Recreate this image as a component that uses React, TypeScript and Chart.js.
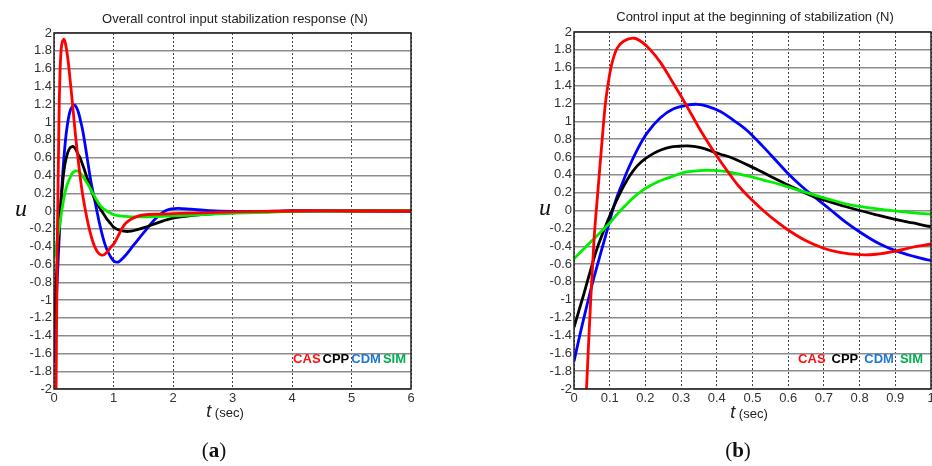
import React, { useEffect, useRef } from "react";
import { Chart, registerables } from "chart.js";

Chart.register(...registerables);

// ---------- data ----------
const casT = [0, 0.02, 0.035, 0.045, 0.052, 0.058, 0.067, 0.079, 0.088, 0.098, 0.107, 0.121, 0.14, 0.168, 0.191, 0.214, 0.242, 0.27, 0.3, 0.33, 0.36, 0.4, 0.43, 0.46, 0.49, 0.53, 0.566, 0.604, 0.65, 0.697, 0.744, 0.8, 0.846, 0.9, 0.956, 1.0, 1.07, 1.14, 1.2, 1.3, 1.4, 1.5, 1.75, 2.0, 2.5, 3.0, 3.5, 4.0, 5.0, 6.0];
const casU = [-5.5, -3.4, -2.0, -1.15, -0.62, -0.22, 0.22, 0.8, 1.2, 1.48, 1.66, 1.82, 1.9, 1.93, 1.885, 1.8, 1.66, 1.48, 1.28, 1.07, 0.86, 0.61, 0.44, 0.28, 0.15, 0.0, -0.12, -0.23, -0.34, -0.42, -0.47, -0.495, -0.49, -0.455, -0.405, -0.375, -0.29, -0.2, -0.14, -0.09, -0.06, -0.045, -0.035, -0.03, -0.02, -0.01, -0.005, 0, 0, 0];

const cppT = [0, 0.028, 0.047, 0.065, 0.093, 0.112, 0.126, 0.14, 0.158, 0.177, 0.2, 0.223, 0.245, 0.27, 0.295, 0.317, 0.34, 0.363, 0.385, 0.41, 0.436, 0.492, 0.547, 0.603, 0.668, 0.715, 0.76, 0.8, 0.854, 0.9, 0.95, 1.0, 1.1, 1.25, 1.4, 1.5, 1.75, 2.0, 2.5, 3.0, 3.5, 4.0, 5.0, 6.0];
const cppU = [-1.31, -0.93, -0.66, -0.42, -0.13, 0.05, 0.17, 0.28, 0.4, 0.5, 0.58, 0.64, 0.68, 0.71, 0.72, 0.725, 0.715, 0.695, 0.665, 0.63, 0.6, 0.5, 0.39, 0.28, 0.16, 0.1, 0.045, 0.0, -0.055, -0.1, -0.14, -0.18, -0.215, -0.23, -0.21, -0.19, -0.13, -0.08, -0.04, -0.02, -0.01, 0, 0, 0];

const cdmT = [0, 0.019, 0.037, 0.056, 0.074, 0.093, 0.108, 0.121, 0.135, 0.149, 0.177, 0.205, 0.242, 0.279, 0.317, 0.345, 0.372, 0.41, 0.447, 0.484, 0.531, 0.567, 0.603, 0.635, 0.668, 0.715, 0.761, 0.808, 0.854, 0.9, 0.948, 1.0, 1.05, 1.1, 1.2, 1.33, 1.45, 1.56, 1.7, 1.84, 1.95, 2.09, 2.3, 2.6, 3.0, 3.5, 4.0, 6.0];
const cdmU = [-1.69, -1.35, -1.05, -0.75, -0.49, -0.22, 0.0, 0.16, 0.3, 0.44, 0.68, 0.87, 1.04, 1.14, 1.18, 1.19, 1.17, 1.11, 1.01, 0.9, 0.71, 0.555, 0.4, 0.28, 0.17, 0.02, -0.13, -0.26, -0.37, -0.45, -0.51, -0.56, -0.575, -0.565, -0.5, -0.39, -0.29, -0.2, -0.09, -0.01, 0.02, 0.03, 0.02, 0.005, -0.005, -0.005, 0, 0];

const simT = [0, 0.05, 0.1, 0.121, 0.145, 0.168, 0.19, 0.214, 0.237, 0.26, 0.285, 0.307, 0.335, 0.363, 0.39, 0.41, 0.436, 0.466, 0.5, 0.531, 0.57, 0.603, 0.635, 0.668, 0.715, 0.761, 0.808, 0.854, 0.9, 0.95, 1.0, 1.1, 1.3, 1.6, 2.0, 2.5, 3.0, 3.5, 4.0, 5.0, 6.0];
const simU = [-0.54, -0.34, -0.14, -0.04, 0.06, 0.15, 0.22, 0.28, 0.325, 0.36, 0.395, 0.425, 0.44, 0.45, 0.45, 0.445, 0.43, 0.405, 0.375, 0.34, 0.3, 0.26, 0.22, 0.18, 0.125, 0.075, 0.04, 0.015, -0.005, -0.025, -0.04, -0.055, -0.065, -0.065, -0.055, -0.04, -0.025, -0.015, -0.005, 0, 0.005];

const seriesLabels = ["CAS", "CPP", "CDM", "SIM"];

const yTickValues = [-2, -1.8, -1.6, -1.4, -1.2, -1, -0.8, -0.6, -0.4, -0.2, 0, 0.2, 0.4, 0.6, 0.8, 1, 1.2, 1.4, 1.6, 1.8, 2];
const yTickLabels = ["-2", "-1.8", "-1.6", "-1.4", "-1.2", "-1", "-0.8", "-0.6", "-0.4", "-0.2", "0", "0.2", "0.4", "0.6", "0.8", "1", "1.2", "1.4", "1.6", "1.8", "2"];

const xTicksA = [0, 1, 2, 3, 4, 5, 6];
const xLabelsA = ["0", "1", "2", "3", "4", "5", "6"];
const xTicksB = [0, 0.1, 0.2, 0.3, 0.4, 0.5, 0.6, 0.7, 0.8, 0.9, 1];
const xLabelsB = ["0", "0.1", "0.2", "0.3", "0.4", "0.5", "0.6", "0.7", "0.8", "0.9", "1"];

const titleA = "Overall control input stabilization response (N)";
const titleB = "Control input at the beginning of stabilization (N)";

// ---------- styles ----------
const LINE_COLORS: Record<string, string> = { CAS: "#ff0000", CPP: "#000000", CDM: "#0000ff", SIM: "#00ee00" };
const LEGEND_COLORS: Record<string, string> = { CAS: "#ff1010", CPP: "#000000", CDM: "#1f78d0", SIM: "#00b050" };
const DRAW_ORDER: Record<string, number> = { CAS: 0, SIM: 1, CPP: 2, CDM: 3 };
const SANS = '"Liberation Sans", Arial, sans-serif';
const SERIF = '"Liberation Serif", "Times New Roman", serif';

const seriesData: Record<string, [number[], number[]]> = {
  CAS: [casT, casU],
  CPP: [cppT, cppU],
  CDM: [cdmT, cdmU],
  SIM: [simT, simU],
};

const frameLegendPlugin = {
  id: "frameLegend",
  afterDraw(chart: any, _args: any, opts: any) {
    const { ctx, chartArea: a } = chart;
    ctx.save();
    ctx.strokeStyle = "#222";
    ctx.lineWidth = 1.5;
    ctx.strokeRect(a.left, a.top, a.right - a.left, a.bottom - a.top);
    ctx.font = `bold 13px ${SANS}`;
    ctx.textBaseline = "middle";
    ctx.textAlign = "left";
    const labels: string[] = chart.data.datasets.map((d: any) => d.label);
    const widths = labels.map((l) => ctx.measureText(l).width);
    const total = widths.reduce((s, w) => s + w, 0) + opts.gap * (labels.length - 1);
    let x = a.right - opts.right - total;
    const y = a.bottom - opts.bottom;
    labels.forEach((l, i) => {
      ctx.fillStyle = LEGEND_COLORS[l];
      ctx.fillText(l, x, y);
      x += widths[i] + opts.gap;
    });
    ctx.restore();
  },
};

type PanelProps = {
  left: number;
  width: number;
  xMax: number;
  xTicks: number[];
  xLabels: string[];
  padTop: number;
  padRight: number;
  yWidth: number;
  legendRight: number;
  legendGap: number;
};

function Panel(p: PanelProps) {
  const ref = useRef<HTMLCanvasElement | null>(null);
  useEffect(() => {
    if (!ref.current) return;
    const tickFont = { family: SANS, size: 13 };
    const chart = new Chart(ref.current, {
      type: "line",
      data: {
        datasets: seriesLabels.map((l) => ({
          label: l,
          data: seriesData[l][0].map((t, i) => ({ x: t, y: seriesData[l][1][i] })),
          borderColor: LINE_COLORS[l],
          backgroundColor: LINE_COLORS[l],
          borderWidth: 2.8,
          pointRadius: 0,
          tension: 0.35,
          fill: false,
          order: DRAW_ORDER[l],
        })),
      },
      options: {
        animation: false,
        responsive: false,
        events: [],
        layout: { padding: { top: p.padTop, right: p.padRight, left: 0, bottom: 0 } },
        plugins: {
          legend: { display: false },
          title: { display: false },
          tooltip: { enabled: false },
          frameLegend: { right: p.legendRight, bottom: 30, gap: p.legendGap },
        } as any,
        scales: {
          x: {
            type: "linear",
            min: 0,
            max: p.xMax,
            afterBuildTicks: (s: any) => {
              s.ticks = p.xTicks.map((v) => ({ value: v }));
            },
            afterFit: (s: any) => {
              s.height = 77;
            },
            ticks: {
              callback: (v: any) => p.xLabels[p.xTicks.indexOf(v)],
              font: tickFont,
              color: "#333",
              padding: 2,
              maxRotation: 0,
              autoSkip: false,
            },
            grid: { color: "#444", lineWidth: 1, drawTicks: false },
            border: { display: false, dash: [2, 2] },
          },
          y: {
            type: "linear",
            min: -2,
            max: 2,
            afterBuildTicks: (s: any) => {
              s.ticks = yTickValues.map((v) => ({ value: v }));
            },
            afterFit: (s: any) => {
              s.width = p.yWidth;
            },
            ticks: {
              callback: (v: any) => yTickLabels[yTickValues.indexOf(v)],
              font: tickFont,
              color: "#333",
              padding: 2,
              autoSkip: false,
            },
            grid: { color: "#8c8c8c", lineWidth: 1.4, drawTicks: false },
            border: { display: false },
          },
        },
      } as any,
      plugins: [frameLegendPlugin],
    });
    return () => chart.destroy();
  }, []);
  return (
    <canvas
      ref={ref}
      width={p.width}
      height={466}
      style={{ position: "absolute", left: p.left, top: 0, width: p.width, height: 466 }}
    />
  );
}

const abs = (x: number, y: number): React.CSSProperties => ({
  position: "absolute",
  left: x,
  top: y,
  transform: "translate(-50%, -50%)",
  whiteSpace: "nowrap",
  lineHeight: 1,
});

export default function App() {
  return (
    <div
      style={{
        position: "absolute",
        left: 0,
        top: 0,
        width: 932,
        height: 466,
        overflow: "hidden",
        background: "#fff",
      }}
    >
      <Panel left={0} width={466} xMax={6} xTicks={xTicksA} xLabels={xLabelsA} padTop={33} padRight={55} yWidth={54} legendRight={5} legendGap={2} />
      <Panel left={466} width={480} xMax={1} xTicks={xTicksB} xLabels={xLabelsB} padTop={32} padRight={15} yWidth={108} legendRight={8} legendGap={6} />

      <div style={{ ...abs(235, 18), font: `13px ${SANS}`, color: "#222" }}>{titleA}</div>
      <div style={{ ...abs(755, 16), font: `13px ${SANS}`, color: "#222" }}>{titleB}</div>

      <div style={{ ...abs(21, 208), font: `italic 24px ${SERIF}`, color: "#111" }}>u</div>
      <div style={{ ...abs(545, 207), font: `italic 24px ${SERIF}`, color: "#111" }}>u</div>

      <div style={{ ...abs(225, 411), color: "#222" }}>
        <span style={{ font: `italic 18px ${SANS}` }}>t</span>
        <span style={{ font: `13px ${SANS}` }}> (sec)</span>
      </div>
      <div style={{ ...abs(749, 412), color: "#222" }}>
        <span style={{ font: `italic 18px ${SANS}` }}>t</span>
        <span style={{ font: `13px ${SANS}` }}> (sec)</span>
      </div>

      <div style={{ ...abs(214, 450), font: `21px ${SERIF}`, color: "#111" }}>
        (<b>a</b>)
      </div>
      <div style={{ ...abs(738, 450), font: `21px ${SERIF}`, color: "#111" }}>
        (<b>b</b>)
      </div>
    </div>
  );
}
